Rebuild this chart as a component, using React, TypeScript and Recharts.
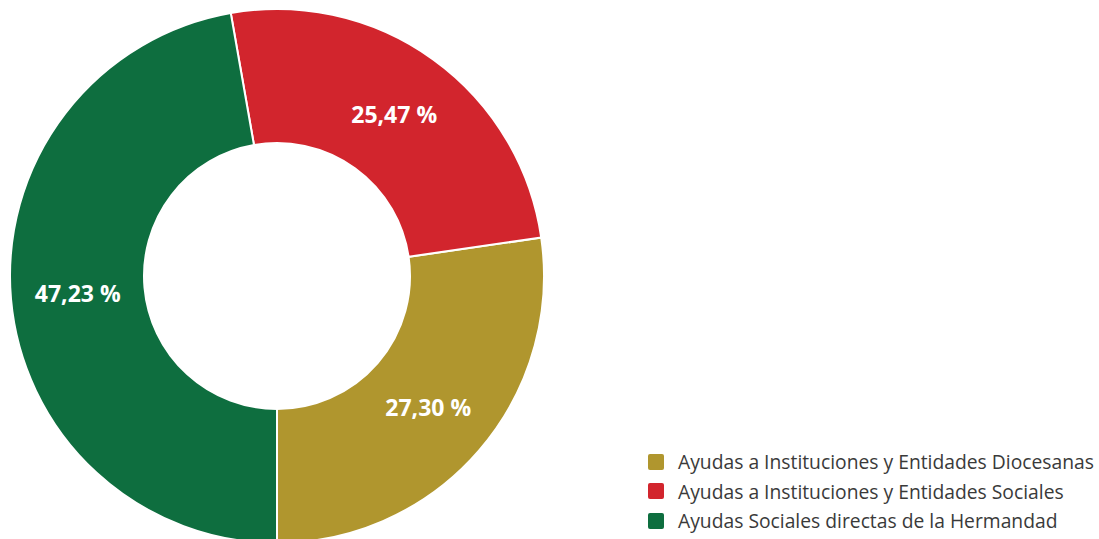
import { PieChart, Pie, Cell, Legend } from "recharts";

const categories = [
  "Ayudas a Instituciones y Entidades Diocesanas",
  "Ayudas a Instituciones y Entidades Sociales",
  "Ayudas Sociales directas de la Hermandad",
];
const shares = [27.3, 25.47, 47.23];
const COLORS = ["#b0962e", "#d2252d", "#0e6e3f"];

const data = categories.map((name, i) => ({ name, value: shares[i] }));

const RADIAN = Math.PI / 180;

const renderLabel = (props: any) => {
  const { cx, cy, midAngle, innerRadius, outerRadius, value } = props;
  const r = (innerRadius + outerRadius) / 2;
  const x = cx + r * Math.cos(-midAngle * RADIAN);
  const y = cy + r * Math.sin(-midAngle * RADIAN);
  return (
    <text
      x={x}
      y={y}
      fill="#ffffff"
      textAnchor="middle"
      dominantBaseline="central"
      fontFamily="'Open Sans', sans-serif"
      fontWeight={700}
      fontSize={23}
    >
      {value.toFixed(2).replace(".", ",")} %
    </text>
  );
};

const renderLegend = () => (
  <div style={{ fontFamily: "'Open Sans', sans-serif" }}>
    {categories.map((name, i) => (
      <div
        key={name}
        style={{ display: "flex", alignItems: "center", height: 29.5 }}
      >
        <span
          style={{
            width: 16,
            height: 16,
            borderRadius: 2,
            background: COLORS[i],
            marginRight: 14,
            flexShrink: 0,
          }}
        />
        <span style={{ fontSize: 19.3, color: "#3a3a3a", whiteSpace: "nowrap" }}>
          {name}
        </span>
      </div>
    ))}
  </div>
);

export default function App() {
  return (
    <div style={{ position: "absolute", left: 0, top: 0 }}>
      <PieChart width={1099} height={539}>
        <Pie
          data={data}
          dataKey="value"
          nameKey="name"
          cx={272}
          cy={271}
          innerRadius={133}
          outerRadius={267}
          startAngle={-90}
          endAngle={270}
          stroke="#ffffff"
          strokeWidth={2}
          label={renderLabel}
          labelLine={false}
          isAnimationActive={false}
        >
          {data.map((_entry, index) => (
            <Cell key={`cell-${index}`} fill={COLORS[index]} />
          ))}
        </Pie>
        <Legend
          content={renderLegend}
          wrapperStyle={{ left: 648, top: 447, width: 451 }}
        />
      </PieChart>
    </div>
  );
}
